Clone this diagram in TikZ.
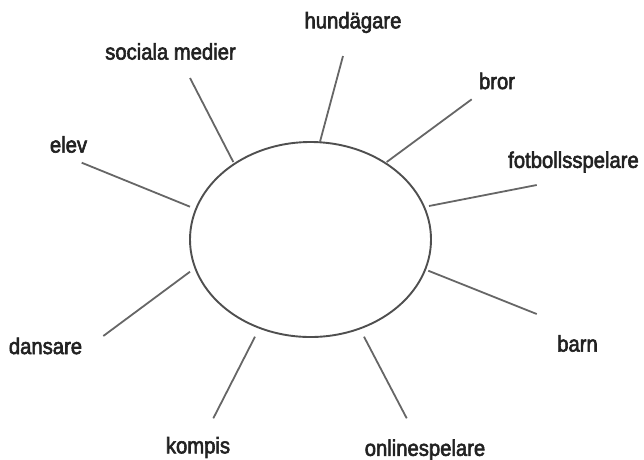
\documentclass[tikz,border=0pt]{standalone}
\usepackage{fontspec}
\usetikzlibrary{shapes.geometric}
\setmainfont[FakeStretch=0.9,FakeBold=2.6]{Liberation Sans}
\definecolor{txt}{HTML}{222222}
\definecolor{ray}{HTML}{666666}
\definecolor{rim}{HTML}{4F4F4F}
\begin{document}
\begin{tikzpicture}[x=1pt,y=-1pt,
  lbl/.style={inner sep=0pt,text=txt,font=\fontsize{22.5}{26}\selectfont},
  rayline/.style={draw=ray,line width=1.8pt},
  rimline/.style={draw=rim,line width=1.9pt}]
\useasboundingbox (0,0) rectangle (644,459);
\node[rimline,ellipse,minimum width=241pt,minimum height=195pt,inner sep=0pt] (c) at (310.5,239.5) {};
% labels
\node[lbl] (hund) at (353,22.5) {hundägare};
\node[lbl] (soc) at (170.5,51.5) {sociala medier};
\node[lbl] (bror) at (497,81) {bror};
\node[lbl] (elev) at (68.5,144.5) {elev};
\node[lbl] (fot) at (573.5,162) {fotbollsspelare};
\node[lbl] (barn) at (577.5,343.5) {barn};
\node[lbl] (dans) at (45.5,346) {dansare};
\node[lbl] (komp) at (198,447.5) {kompis};
\node[lbl] (onl) at (425,450) {onlinespelare};
% ray end points
\coordinate (h1) at (343,56);    \coordinate (h2) at (320,141.7);
\coordinate (s1) at (190,78);    \coordinate (s2) at (233.3,162);
\coordinate (b1) at (471.7,99.3);\coordinate (b2) at (386.7,162);
\coordinate (e1) at (81.7,162.7);\coordinate (e2) at (190,206.7);
\coordinate (f1) at (536.7,185); \coordinate (f2) at (429,206);
\coordinate (n1) at (536.7,314); \coordinate (n2) at (428.3,270.7);
\coordinate (d1) at (103.3,336); \coordinate (d2) at (190,271.7);
\coordinate (k1) at (213.3,418.3);\coordinate (k2) at (255,336.7);
\coordinate (o1) at (406.7,418.3);\coordinate (o2) at (364,336.7);
\draw[rayline] (h1) -- (h2);
\draw[rayline] (s1) -- (s2);
\draw[rayline] (b1) -- (b2);
\draw[rayline] (e1) -- (e2);
\draw[rayline] (f1) -- (f2);
\draw[rayline] (n1) -- (n2);
\draw[rayline] (d1) -- (d2);
\draw[rayline] (k1) -- (k2);
\draw[rayline] (o1) -- (o2);
\end{tikzpicture}
\end{document}
